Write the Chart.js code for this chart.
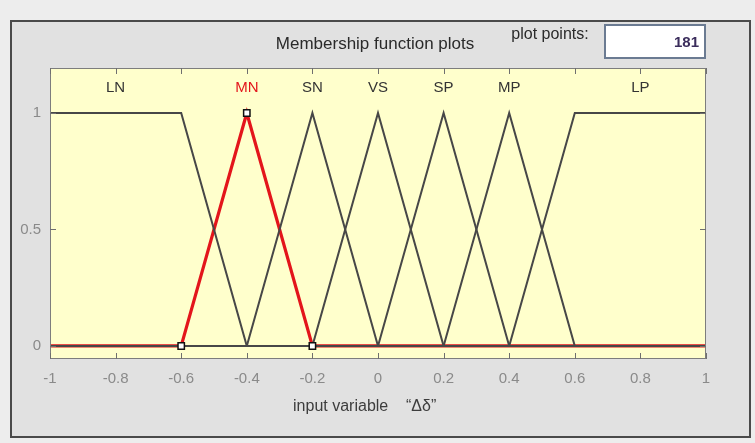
<!DOCTYPE html>
<html>
<head>
<meta charset="utf-8">
<script src="https://cdn.jsdelivr.net/npm/chart.js@4.4.0/dist/chart.umd.min.js"></script>
<style>
  html, body { margin: 0; padding: 0; background: #ededed; }
  canvas { display: block; }
</style>
</head>
<body>
<canvas id="mf" width="755" height="443"></canvas>
<script>
// axis ticks
const xTicks = [-1, -0.8, -0.6, -0.4, -0.2, 0, 0.2, 0.4, 0.6, 0.8, 1];
const yTicks = [0, 0.5, 1];

// membership function names and where their labels sit
const mfNames = ['LN', 'MN', 'SN', 'VS', 'SP', 'MP', 'LP'];
const labelX  = [-0.8, -0.4, -0.2, 0, 0.2, 0.4, 0.8];

// breakpoints of each membership function
const lnX = [-1, -0.6, -0.4, 1],        lnY = [1, 1, 0, 0];
const mnX = [-1, -0.6, -0.4, -0.2, 1],  mnY = [0, 0, 1, 0, 0];
const snX = [-1, -0.4, -0.2, 0, 1],     snY = [0, 0, 1, 0, 0];
const vsX = [-1, -0.2, 0, 0.2, 1],      vsY = [0, 0, 1, 0, 0];
const spX = [-1, 0, 0.2, 0.4, 1],       spY = [0, 0, 1, 0, 0];
const mpX = [-1, 0.2, 0.4, 0.6, 1],     mpY = [0, 0, 1, 0, 0];
const lpX = [-1, 0.4, 0.6, 1],          lpY = [0, 0, 1, 1];

const selected = 'MN';
const plotPoints = '181';

const FONT = '"Liberation Sans", Arial, sans-serif';

function pts(xs, ys) {
  return xs.map((x, i) => ({x: x, y: ys[i]}));
}

const mfs = [['LN', lnX, lnY], ['SN', snX, snY], ['VS', vsX, vsY],
             ['SP', spX, spY], ['MP', mpX, mpY], ['LP', lpX, lpY],
             ['MN', mnX, mnY]];

let datasets = mfs.map(m => {
  let sel = m[0] === selected;
  return {
    label: m[0],
    data: pts(m[1], m[2]),
    borderColor: sel ? '#e3151b' : '#474747',
    borderWidth: sel ? 3.2 : 2,
    pointRadius: 0,
    tension: 0,
    fill: false
  };
});

// square markers on the selected function's vertices (drawn on top)
let selPts = pts(mnX, mnY).filter(p => p.x > -1 && p.x < 1);
datasets.unshift({
  label: 'vertices',
  data: selPts,
  showLine: false,
  pointStyle: 'rect',
  pointRadius: 4.5,
  pointBackgroundColor: '#ffffff',
  pointBorderColor: '#111111',
  pointBorderWidth: 1.5
});

const framePlugin = {
  id: 'frame',
  beforeDraw(chart) {
    const ctx = chart.ctx;
    const a = chart.chartArea;
    ctx.save();
    ctx.fillStyle = '#ededed';
    ctx.fillRect(0, 0, chart.width, chart.height);
    ctx.fillStyle = '#e1e1e1';
    ctx.fillRect(11, 21, 739, 416);
    ctx.strokeStyle = '#4a4a4a';
    ctx.lineWidth = 2;
    ctx.strokeRect(11, 21, 739, 416);
    ctx.fillStyle = '#ffffcc';
    ctx.fillRect(a.left, a.top, a.right - a.left, a.bottom - a.top);
    ctx.restore();
  },
  afterDraw(chart) {
    const ctx = chart.ctx;
    const a = chart.chartArea;
    const xs = chart.scales.x, ys = chart.scales.y;
    ctx.save();
    // plot box
    ctx.strokeStyle = '#7d7d7d';
    ctx.lineWidth = 1;
    ctx.strokeRect(a.left + 0.5, a.top + 0.5, a.right - a.left - 1, a.bottom - a.top - 1);
    // inward tick marks
    ctx.strokeStyle = '#6f6f6f';
    ctx.beginPath();
    xTicks.forEach(v => {
      let px = Math.round(xs.getPixelForValue(v)) + 0.5;
      ctx.moveTo(px, a.bottom); ctx.lineTo(px, a.bottom - 6);
      ctx.moveTo(px, a.top); ctx.lineTo(px, a.top + 6);
    });
    yTicks.forEach(v => {
      let py = Math.round(ys.getPixelForValue(v)) + 0.5;
      ctx.moveTo(a.left, py); ctx.lineTo(a.left + 6, py);
      ctx.moveTo(a.right, py); ctx.lineTo(a.right - 6, py);
    });
    ctx.stroke();
    // membership function names
    ctx.font = '15px ' + FONT;
    ctx.textAlign = 'center';
    ctx.textBaseline = 'middle';
    mfNames.forEach((n, i) => {
      ctx.fillStyle = n === selected ? '#e3151b' : '#333333';
      ctx.fillText(n, xs.getPixelForValue(labelX[i]), ys.getPixelForValue(1.108));
    });
    // header
    ctx.fillStyle = '#2a2a2a';
    ctx.font = '17px ' + FONT;
    ctx.fillText('Membership function plots', 375, 44);
    ctx.font = '16px ' + FONT;
    ctx.fillText('plot points:', 550, 35);
    ctx.fillStyle = '#ffffff';
    ctx.fillRect(605, 25, 100, 33);
    ctx.strokeStyle = '#6b7b92';
    ctx.lineWidth = 2;
    ctx.strokeRect(605, 25, 100, 33);
    ctx.fillStyle = '#3b2d5c';
    ctx.font = 'bold 15px ' + FONT;
    ctx.textAlign = 'right';
    ctx.fillText(plotPoints, 699, 43);
    ctx.restore();
  }
};

new Chart(document.getElementById('mf'), {
  type: 'line',
  data: { datasets: datasets },
  options: {
    responsive: false,
    animation: false,
    events: [],
    layout: { padding: { left: 0, top: 68, right: 49, bottom: 23 } },
    plugins: { legend: { display: false }, tooltip: { enabled: false } },
    scales: {
      x: {
        type: 'linear',
        min: -1,
        max: 1,
        afterBuildTicks: s => { s.ticks = xTicks.map(v => ({value: v})); },
        afterFit: s => { s.height = 61; },
        grid: { display: false, drawTicks: false },
        border: { display: false },
        ticks: {
          padding: 11,
          color: '#8a8a8a',
          font: { family: FONT, size: 15 },
          maxRotation: 0,
          callback: v => String(+v.toFixed(1))
        },
        title: {
          display: true,
          text: 'input variable    \u201c\u0394\u03b4\u201d\u00a0\u00a0\u00a0\u00a0\u00a0\u00a0',
          color: '#3d3d3d',
          font: { family: FONT, size: 16 },
          padding: { top: 4, bottom: 4 }
        }
      },
      y: {
        type: 'linear',
        min: -0.056,
        max: 1.193,
        afterBuildTicks: s => { s.ticks = yTicks.map(v => ({value: v})); },
        afterFit: s => { s.width = 50; },
        grid: { display: false, drawTicks: false },
        border: { display: false },
        ticks: {
          padding: 9,
          color: '#8a8a8a',
          font: { family: FONT, size: 15 },
          callback: v => String(v)
        }
      }
    }
  },
  plugins: [framePlugin]
});
</script>
</body>
</html>
